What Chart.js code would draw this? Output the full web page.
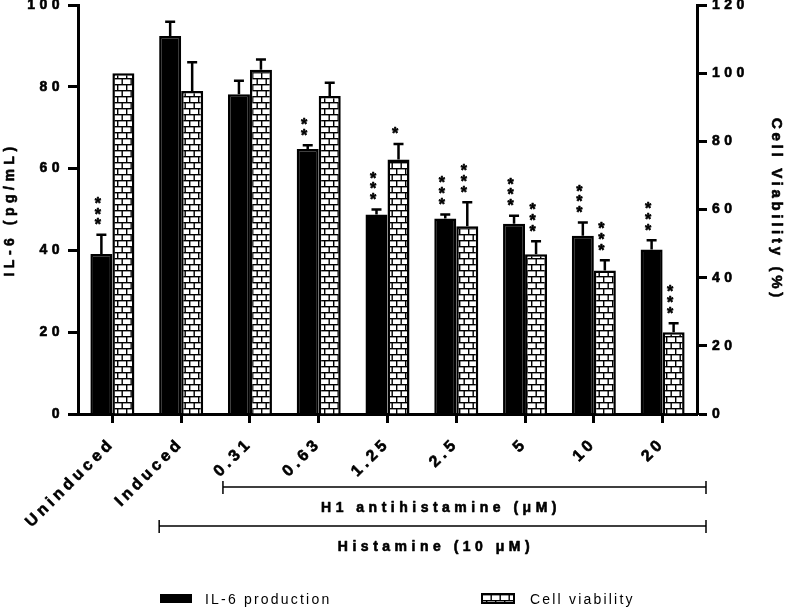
<!DOCTYPE html>
<html>
<head>
<meta charset="utf-8">
<script src="https://cdn.jsdelivr.net/npm/chart.js@4.4.1/dist/chart.umd.min.js"></script>
<style>
  body { margin: 0; background: #fff; }
</style>
</head>
<body>
<canvas id="myChart" width="787" height="610"></canvas>
<script>
// values
const categories = ['Uninduced', 'Induced', '0.31', '0.63', '1.25', '2.5', '5', '10', '20'];
const il6Values = [39.1, 92.4, 78.2, 64.8, 48.8, 47.8, 46.5, 43.6, 40.2];
const il6Errors = [4.7, 3.5, 3.3, 0.9, 1.2, 1.0, 2.0, 3.2, 2.3];
const viabilityValues = [100, 94.8, 101, 93.3, 74.7, 55.1, 46.9, 42.1, 24.0];
const viabilityErrors = [0, 8.4, 3.0, 3.9, 4.5, 7.0, 3.8, 3.0, 2.6];
// number of significance stars above each bar
const il6Stars = [3, 0, 0, 2, 3, 3, 3, 3, 3];
const viabilityStars = [0, 0, 0, 0, 1, 3, 3, 3, 3];

const FONT = '"Liberation Sans", Arial, sans-serif';

const canvas = document.getElementById('myChart');
const ctx = canvas.getContext('2d');

// the original uses widely spaced, heavy lettering, so add spacing depending on font
function spacingFor(font) {
    const m = font.match(/(\d+(\.\d+)?)px/);
    const size = m ? parseFloat(m[1]) : 12;
    const bold = /bold|700/.test(font);
    if (!bold) return 2.2;
    if (size >= 16) return 4;
    if (size >= 15) return 3.7;
    if (size >= 14) return 4.5;
    return 3;
}
const origFill = ctx.fillText;
const origMeasure = ctx.measureText;
ctx.fillText = function (t, x, y, w) {
    this.letterSpacing = spacingFor(this.font) + 'px';
    const r = w === undefined ? origFill.call(this, t, x, y) : origFill.call(this, t, x, y, w);
    if (/bold|700/.test(this.font)) {
        // thicken bold text a little
        this.save();
        this.strokeStyle = this.fillStyle;
        this.lineWidth = 0.6;
        this.lineJoin = 'round';
        this.setLineDash([]);
        this.strokeText(t, x, y);
        this.restore();
    }
    return r;
};
ctx.measureText = function (t) {
    this.letterSpacing = spacingFor(this.font) + 'px';
    return origMeasure.call(this, t);
};

// brick hatch used for the viability bars
function makeBrickPattern(c) {
    const tile = document.createElement('canvas');
    tile.width = 9;
    tile.height = 12;
    const t = tile.getContext('2d');
    t.fillStyle = '#fff';
    t.fillRect(0, 0, 9, 12);
    t.fillStyle = '#000';
    t.fillRect(0, 0, 9, 1.4);
    t.fillRect(0, 6, 9, 1.4);
    t.fillRect(0, 0, 1.4, 6);
    t.fillRect(4.5, 6, 1.4, 6);
    return c.createPattern(tile, 'repeat');
}
const brick = makeBrickPattern(ctx);

const annotations = {
    id: 'annotations',
    afterDatasetsDraw(chart) {
        const c = chart.ctx;
        const sets = [
            [0, il6Values, il6Errors, il6Stars, 'y'],
            [1, viabilityValues, viabilityErrors, viabilityStars, 'y1']
        ];
        c.save();
        c.strokeStyle = '#000';
        c.lineWidth = 2.5;
        sets.forEach(([di, vals, errs, stars, axis]) => {
            const meta = chart.getDatasetMeta(di);
            const scale = chart.scales[axis];
            meta.data.forEach((bar, i) => {
                let top = bar.y;
                if (errs[i] > 0) {
                    top = scale.getPixelForValue(vals[i] + errs[i]);
                    c.beginPath();
                    c.moveTo(bar.x, bar.y);
                    c.lineTo(bar.x, top);
                    c.moveTo(bar.x - 5, top);
                    c.lineTo(bar.x + 5, top);
                    c.stroke();
                }
                c.fillStyle = '#000';
                c.font = 'bold 16px ' + FONT;
                c.textAlign = 'center';
                c.textBaseline = 'middle';
                for (let k = 0; k < stars[i]; k++) {
                    c.fillText('*', bar.x - 1.5, top - 9 - k * 10.7);
                }
            });
        });
        c.restore();
    },
    afterDraw(chart) {
        const c = chart.ctx;
        const area = chart.chartArea;
        const x = chart.scales.x;
        const right = area.right + 9;
        c.save();
        c.strokeStyle = '#000';
        c.fillStyle = '#000';
        c.lineWidth = 1.5;
        const brackets = [
            { from: x.getPixelForValue(2) - 27, y: 487, text: 'H1 antihistamine (\u03bcM)', tx: 441, ty: 508 },
            { from: x.getPixelForValue(1) - 22, y: 526, text: 'Histamine (10 \u03bcM)', tx: 436, ty: 547 }
        ];
        c.font = 'bold 14px ' + FONT;
        c.textAlign = 'center';
        c.textBaseline = 'middle';
        brackets.forEach(b => {
            c.beginPath();
            c.moveTo(b.from, b.y);
            c.lineTo(right, b.y);
            c.moveTo(b.from, b.y - 6);
            c.lineTo(b.from, b.y + 7);
            c.moveTo(right, b.y - 6);
            c.lineTo(right, b.y + 7);
            c.stroke();
            c.fillText(b.text, b.tx, b.ty);
        });

        // legend
        c.fillRect(160, 594, 32, 9);
        c.fillStyle = brick;
        c.fillRect(482, 594, 32, 9);
        c.lineWidth = 2;
        c.strokeRect(482, 594, 32, 9);
        c.fillStyle = '#000';
        c.font = '14px ' + FONT;
        c.textAlign = 'left';
        c.fillText('IL-6 production', 205, 600);
        c.fillText('Cell viability', 530, 600);
        c.restore();
    }
};

const axisGrid = {
    display: true,
    drawOnChartArea: false,
    color: '#000',
    tickColor: '#000',
    tickLength: 10,
    tickWidth: 3
};
const axisBorder = { display: true, color: '#000', width: 3 };
const tickFont = { family: FONT, size: 14, weight: 'bold' };

new Chart(ctx, {
    type: 'bar',
    data: {
        labels: categories,
        datasets: [
            {
                label: 'IL-6 production',
                data: il6Values,
                yAxisID: 'y',
                backgroundColor: '#000',
                borderColor: '#000',
                borderWidth: 2.5,
                categoryPercentage: 0.64,
                barPercentage: 1
            },
            {
                label: 'Cell viability',
                data: viabilityValues,
                yAxisID: 'y1',
                backgroundColor: brick,
                borderColor: '#000',
                borderWidth: 2.5,
                categoryPercentage: 0.64,
                barPercentage: 1
            }
        ]
    },
    options: {
        responsive: false,
        animation: false,
        layout: { padding: { top: 5, left: 0, right: 0, bottom: 0 } },
        plugins: {
            legend: { display: false },
            tooltip: { enabled: false }
        },
        scales: {
            x: {
                grid: { ...axisGrid, offset: false, tickLength: 9 },
                border: axisBorder,
                ticks: {
                    color: '#000',
                    font: { family: FONT, size: 16, weight: 'bold' },
                    maxRotation: 45,
                    minRotation: 45,
                    padding: 11
                },
                afterFit: s => { s.height = 196; s.paddingLeft = 0; s.paddingRight = 0; }
            },
            y: {
                position: 'left',
                min: 0,
                max: 100,
                grid: axisGrid,
                border: axisBorder,
                ticks: { stepSize: 20, color: '#000', font: tickFont, padding: 4 },
                title: {
                    display: true,
                    text: 'IL-6 (pg/mL)',
                    color: '#000',
                    font: { family: FONT, size: 14, weight: 'bold' },
                    padding: { top: 2, bottom: 0 }
                },
                afterFit: s => { s.width = 78; s.paddingTop = 0; s.paddingBottom = 0; }
            },
            y1: {
                position: 'right',
                min: 0,
                max: 120,
                grid: axisGrid,
                border: axisBorder,
                ticks: { stepSize: 20, color: '#000', font: tickFont, padding: 5 },
                title: {
                    display: true,
                    text: 'Cell Viability (%)',
                    color: '#000',
                    font: { family: FONT, size: 15, weight: 'bold' },
                    padding: { top: 2, bottom: 2 }
                },
                afterFit: s => { s.width = 90; s.paddingTop = 0; s.paddingBottom = 0; }
            }
        }
    },
    plugins: [annotations]
});
</script>
</body>
</html>
